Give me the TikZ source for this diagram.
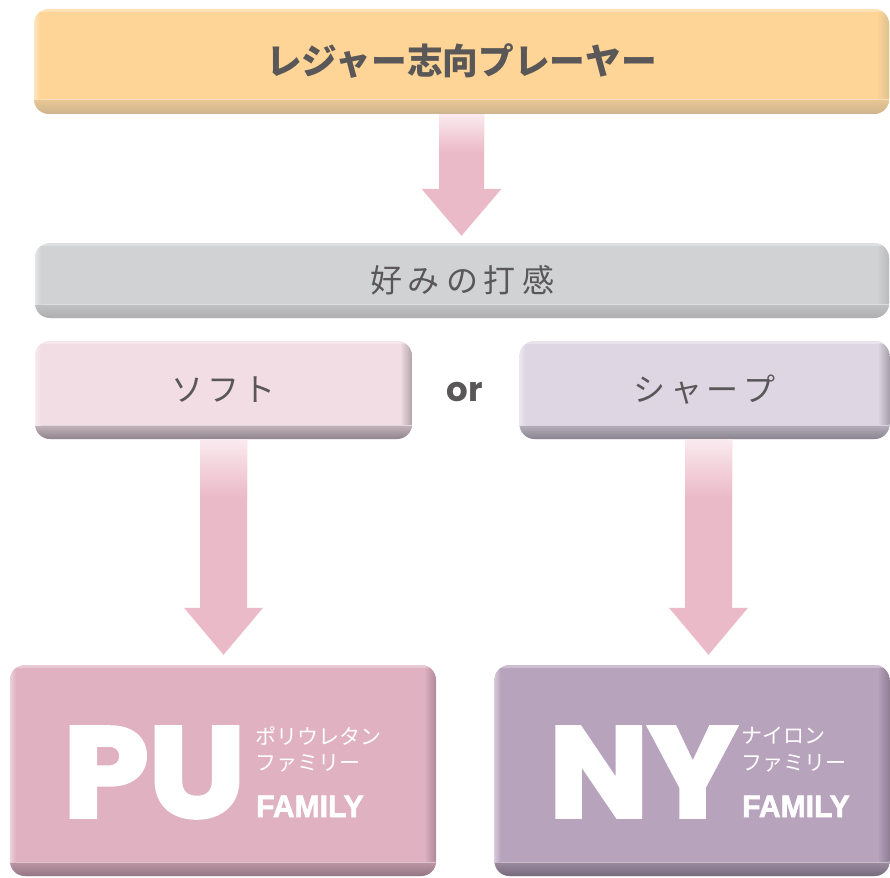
\documentclass[tikz,border=0pt]{standalone}
\usepackage{fontspec}
\newfontfamily\jp{Noto Sans CJK JP}
\newfontfamily\pop{Poppins}
\newfontfamily\popheavy{Poppins}[BoldFeatures={FakeBold=3}]
\newfontfamily\libheavy{Liberation Sans}[BoldFeatures={FakeBold=2}]
\usetikzlibrary{calc}
\definecolor{topmain}{HTML}{FED597}
\definecolor{topdark}{HTML}{CDB48E}
\definecolor{graymain}{HTML}{D1D2D4}
\definecolor{graydark}{HTML}{AEAEB0}
\definecolor{softmain}{HTML}{F1DDE3}
\definecolor{softdark}{HTML}{8F838B}
\definecolor{sharpmain}{HTML}{DFD6E3}
\definecolor{sharpdark}{HTML}{88838E}
\definecolor{pumain}{HTML}{DFB1C1}
\definecolor{pudark}{HTML}{947683}
\definecolor{nymain}{HTML}{B8A3BD}
\definecolor{nydark}{HTML}{786B7D}
\definecolor{arrowpink}{HTML}{EBBAC8}
\definecolor{arrowlight}{HTML}{FAEAEF}
\definecolor{textgray}{HTML}{595757}
\newcommand{\pinkarrow}[7]{%
  % #1 start, #2 end (same x), #3 shaft half, #4 head half, #5 head length above end, #6 tip gap, #7 fade length
  \fill[arrowpink] ($(#1)+(-#3,0)$) -- ($(#1)+(#3,0)$) -- ($(#2)+(#3,#5)$) -- ($(#2)+(#4,#5)$)
    -- ($(#2)+(0,#6)$) -- ($(#2)+(-#4,#5)$) -- ($(#2)+(-#3,#5)$) -- cycle;
  \shade[top color=arrowlight, bottom color=arrowpink] ($(#1)+(-#3,0)$) rectangle ($(#1)+(#3,-#7)$);
}
\tikzset{
  panel/.style 2 args={rounded corners=15pt, fill=#1, inner sep=0pt, text=textgray,
    path picture={
      \coordinate (ppsw) at (path picture bounding box.south west);
      \coordinate (ppne) at (path picture bounding box.north east);
      \shade[sharp corners, left color=#1, right color=#1!35!#2] ($(ppne)+(-12pt,0)$) rectangle (ppsw -| ppne);
      \shade[sharp corners, top color=#1!55!#2, bottom color=#2] (ppsw) rectangle ($(ppsw -| ppne)+(0,14pt)$);
      \draw[sharp corners, white, opacity=0.45, line width=1pt] ($(ppsw)+(0,14pt)$) -- ($(ppsw -| ppne)+(0,14pt)$);
      \fill[sharp corners, white, opacity=0.3] (ppne) rectangle ($(ppne -| ppsw)+(0,-3pt)$);
      \shade[sharp corners, left color=white!40!#1, right color=#1] ($(ppsw)+(0,14pt)$) rectangle ($(ppne -| ppsw)+(6pt,-3pt)$);
    }},
  boxtext/.style={font={\jp\fontsize{32pt}{36pt}\selectfont}},
  whitejp/.style={anchor=west, inner sep=0pt, text=white, font={\jp\fontsize{21pt}{24pt}\selectfont}},
  bigabbr/.style={anchor=base west, inner sep=0pt, text=white, font={\popheavy\bfseries\fontsize{128pt}{130pt}\selectfont}},
  familytext/.style={anchor=base west, inner sep=0pt, text=white, font={\libheavy\bfseries\fontsize{31pt}{32pt}\selectfont}}
}
\begin{document}
\begin{tikzpicture}[x=1pt,y=-1pt]
\useasboundingbox (0,0) rectangle (890,877);
\clip (0,0) rectangle (890,877);

\node[panel={topmain}{topdark}, minimum width=855pt, minimum height=105pt,
      font={\jp\bfseries\fontsize{35.7pt}{40pt}\selectfont}] (top) at (461.5,61.5) {\raisebox{-1.5pt}{レジャー志向プレーヤー}};
\node[panel={graymain}{graydark}, minimum width=854pt, minimum height=75pt, boxtext] (pref) at (462,280.5)
  {好\hspace{6pt}み\hspace{6pt}の\hspace{6pt}打\hspace{6pt}感};
\node[panel={softmain}{softdark}, minimum width=377pt, minimum height=98pt, boxtext] (soft) at (223.5,390)
  {ソ\hspace{4pt}フ\hspace{4pt}ト};
\node[panel={sharpmain}{sharpdark}, minimum width=370pt, minimum height=98pt, boxtext] (sharp) at (704.5,390)
  {シ\hspace{5pt}ャ\hspace{5pt}ー\hspace{5pt}プ};
\node[text=textgray, inner sep=0pt, font={\pop\bfseries\fontsize{34pt}{40pt}\selectfont}] (or) at (465,392.5) {or};

\node[panel={pumain}{pudark}, minimum width=426pt, minimum height=211pt] (pu) at (223,770.5) {};
\node[panel={nymain}{nydark}, minimum width=395pt, minimum height=211pt] (ny) at (692,770.5) {};

\node[bigabbr] (puabbr) at (63,817) {\scalebox{1.07}[1]{PU}};
\node[whitejp] (pujp1) at (255,736) {ポリウレタン};
\node[whitejp] (pujp2) at (255,763) {ファミリー};
\node[familytext] (pufam) at (256,817) {\scalebox{0.97}[1]{FAMILY}};

\node[bigabbr] (nyabbr) at (549,817) {\scalebox{1.03}[1]{NY}};
\node[whitejp] (nyjp1) at (741,736) {ナイロン};
\node[whitejp] (nyjp2) at (741,763) {ファミリー};
\node[familytext] (nyfam) at (742,817) {\scalebox{0.97}[1]{FAMILY}};

\coordinate (a1s) at (top.south);
\coordinate (a1e) at (a1s |- pref.north);
\coordinate (a2s) at (soft.south);
\coordinate (a2e) at (a2s |- pu.north);
\coordinate (a3s) at ($(sharp.south)+(4pt,0)$);
\coordinate (a3e) at (a3s |- ny.north);
\pinkarrow{a1s}{a1e}{22.5pt}{40pt}{54pt}{7pt}{38pt}
\pinkarrow{a2s}{a2e}{23.5pt}{39.5pt}{57pt}{10pt}{58pt}
\pinkarrow{a3s}{a3e}{23.5pt}{39.5pt}{57pt}{10pt}{58pt}
\end{tikzpicture}
\end{document}
